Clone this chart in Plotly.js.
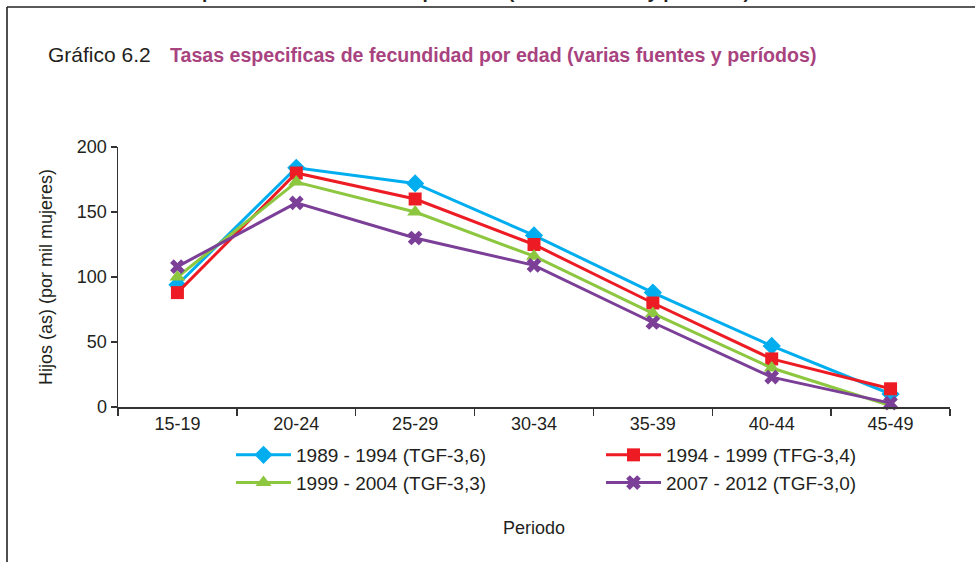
<!DOCTYPE html>
<html>
<head>
<meta charset="utf-8">
<script src="https://cdn.plot.ly/plotly-3.0.1.min.js"></script>
<style>
html,body{margin:0;padding:0;background:#fff;}
#chart{width:975px;height:562px;}
</style>
</head>
<body>
<div id="chart"></div>
<script>
// Data
const ageGroups = ["15-19", "20-24", "25-29", "30-34", "35-39", "40-44", "45-49"];
const seriesNames = ["1989 - 1994 (TGF-3,6)", "1994 - 1999 (TFG-3,4)", "1999 - 2004 (TGF-3,3)", "2007 - 2012 (TGF-3,0)"];
const rates1989 = [94, 184, 172, 132, 88, 47, 10];
const rates1994 = [88, 180, 160, 125, 80, 37, 14];
const rates1999 = [100, 173, 150, 116, 72, 30, 1];
const rates2007 = [108, 157, 130, 109, 65, 23, 3];
const yTicks = [0, 50, 100, 150, 200];

const colors = ["#00AEEF", "#ED1C24", "#8DC63F", "#7B3F98"];
const symbols = ["diamond", "square", "triangle-up", "x"];
const sizes = [14, 13, 14, 13];
const allValues = [rates1989, rates1994, rates1999, rates2007];

const traces = allValues.map((vals, i) => ({
  type: "scatter",
  mode: "lines+markers",
  name: seriesNames[i],
  x: ageGroups,
  y: vals,
  line: {color: colors[i], width: 3},
  marker: {symbol: symbols[i], size: sizes[i], color: colors[i], line: {width: 0}},
  cliponaxis: false
}));

const FONT = "'Liberation Sans', Arial, Helvetica, sans-serif";

// plot area in px: x 118..950, y 147..407
const L = 118, R = 950, T = 147, B = 407;
const px2x = p => (p - L) / (R - L);
const py2y = p => (B - p) / (B - T);

const layout = {
  width: 975,
  height: 562,
  margin: {l: L, r: 975 - R, t: T, b: 562 - B, pad: 0, autoexpand: false},
  paper_bgcolor: "#ffffff",
  plot_bgcolor: "#ffffff",
  font: {family: FONT, size: 18, color: "#231f20"},
  showlegend: true,
  title: {
    text: "Gráfico 6.2",
    x: 48 / 975, xref: "container", xanchor: "left",
    y: 1 - 55 / 562, yref: "container", yanchor: "middle",
    font: {family: FONT, size: 21, color: "#231f20"}
  },
  xaxis: {
    type: "category",
    range: [-0.5, 6.5],
    showgrid: false,
    zeroline: false,
    showline: true,
    linecolor: "#333333",
    linewidth: 1.5,
    ticks: "outside",
    tickson: "boundaries",
    ticklen: 7,
    tickwidth: 1.5,
    tickcolor: "#333333",
    tickfont: {family: FONT, size: 18, color: "#231f20"},
    title: {text: "Periodo", font: {family: FONT, size: 18, color: "#231f20"}, standoff: 88},
    automargin: false,
    fixedrange: true
  },
  yaxis: {
    range: [0, 200],
    tickvals: yTicks,
    ticktext: yTicks.map(String),
    showgrid: false,
    zeroline: false,
    showline: true,
    linecolor: "#333333",
    linewidth: 1.5,
    ticks: "outside",
    ticklen: 6,
    tickwidth: 1.5,
    tickcolor: "#333333",
    tickfont: {family: FONT, size: 18, color: "#231f20"},
    title: {text: "Hijos (as) (por mil mujeres)", font: {family: FONT, size: 18, color: "#231f20"}, standoff: 19},
    automargin: false,
    fixedrange: true
  },
  legend: {
    orientation: "h",
    x: px2x(231), xanchor: "left",
    y: py2y(436), yanchor: "top",
    entrywidth: 300, entrywidthmode: "pixels",
    itemwidth: 55,
    font: {family: FONT, size: 19, color: "#231f20"},
    bgcolor: "rgba(0,0,0,0)",
    borderwidth: 0,
    traceorder: "normal",
    tracegroupgap: 0
  },
  shapes: [
    {type: "line", xref: "paper", yref: "paper", x0: px2x(7), x1: px2x(980), y0: py2y(7), y1: py2y(7), line: {color: "#222222", width: 1.6}},
    {type: "line", xref: "paper", yref: "paper", x0: px2x(7), x1: px2x(7), y0: py2y(7), y1: py2y(570), line: {color: "#222222", width: 1.6}}
  ],
  annotations: [
    {text: "<b>Tasas especificas de fecundidad por edad (varias fuentes y períodos)</b>",
     xref: "paper", yref: "paper", x: px2x(168), y: py2y(55), xanchor: "left", yanchor: "middle",
     showarrow: false, font: {family: FONT, size: 19.6, color: "#A8437F"}},
    {text: "<b>Tasas específicas de fecundidad por edad (varias fuentes y períodos)</b>",
     xref: "paper", yref: "paper", x: px2x(752), y: py2y(4), xanchor: "right", yanchor: "bottom",
     showarrow: false, font: {family: FONT, size: 19, color: "#231f20"}}
  ]
};

Plotly.newPlot("chart", traces, layout, {displayModeBar: false, staticPlot: true});
</script>
</body>
</html>
